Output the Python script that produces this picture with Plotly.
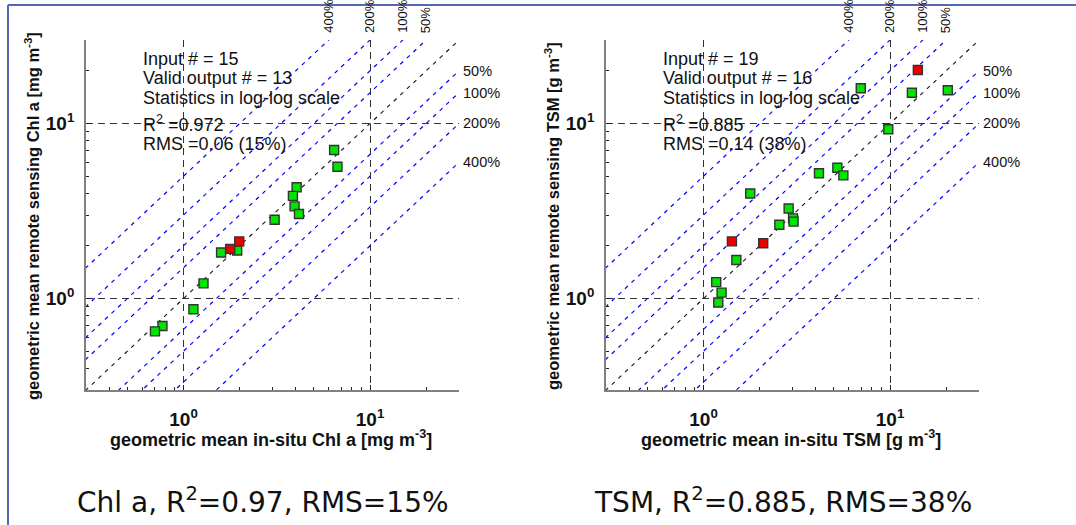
import math
import plotly.graph_objects as go

# ---- data -------------------------------------------------------------
chl_insitu = [6.42, 6.69, 4.04, 3.86, 3.94, 4.16, 3.08, 1.94, 1.59, 1.28, 1.13, 0.771, 0.703]
chl_rs     = [7.05, 5.66, 4.32, 3.86, 3.36, 3.04, 2.82, 1.88, 1.83, 1.22, 0.868, 0.696, 0.649]
chl_out_insitu = [1.99, 1.78]
chl_out_rs     = [2.12, 1.92]

tsm_insitu = [6.97, 13.1, 20.4, 9.79, 4.16, 5.22, 5.62, 1.78, 2.86, 3.02, 3.04, 2.55, 1.50, 1.17, 1.25, 1.20]
tsm_rs     = [15.9, 15.0, 15.5, 9.27, 5.20, 5.59, 5.05, 3.98, 3.27, 2.87, 2.75, 2.64, 1.66, 1.24, 1.08, 0.948]
tsm_out_insitu = [14.1, 1.42, 2.09]
tsm_out_rs     = [20.2, 2.12, 2.07]

error_pct = [50, 100, 200, 400]          # relative error envelopes
axis_min, axis_max = 0.3, 30.0
major_ticks = [1, 10]
major_text = ["<b>10<sup>0</sup></b>", "<b>10<sup>1</sup></b>"]
minor_ticks = [0.3, 0.4, 0.5, 0.6, 0.7, 0.8, 0.9, 2, 3, 4, 5, 6, 7, 8, 9, 20, 30]

stats_chl = ["Input # = 15", "Valid output # = 13", "Statistics in log-log scale",
             "R<sup>2</sup> =0.972", "RMS =0.06 (15%)"]
stats_tsm = ["Input # = 19", "Valid output # = 16", "Statistics in log-log scale",
             "R<sup>2</sup> =0.885", "RMS =0.14 (38%)"]
captions = ["Chl a, R<sup>2</sup>=0.97, RMS=15%", "TSM, R<sup>2</sup>=0.885, RMS=38%"]
xtitles = ["geometric mean in-situ Chl a [mg m<sup>-3</sup>]",
           "geometric mean in-situ TSM [g m<sup>-3</sup>]"]
ytitles = ["geometric mean remote sensing Chl a [mg m<sup>-3</sup>]",
           "geometric mean remote sensing TSM [g m<sup>-3</sup>]"]

W, H = 1076, 525
GREEN, RED = "#00e600", "#ee0000"
LINE_X = [0.05, 200]


def px(x):
    return x / W


def py(y):
    return 1 - y / H


fig = go.Figure()
panels = [
    ("x", "y", chl_insitu, chl_rs, chl_out_insitu, chl_out_rs),
    ("x2", "y2", tsm_insitu, tsm_rs, tsm_out_insitu, tsm_out_rs),
]

for xa, ya, xi, yi, xo, yo in panels:
    # error envelopes (blue) and 1:1 line (black)
    for p in error_pct:
        k = 1 + p / 100
        for f in (k, 1 / k):
            fig.add_trace(go.Scatter(x=LINE_X, y=[v * f for v in LINE_X], mode="lines",
                                     line=dict(color="#0000ff", width=1.2, dash="4px,5px"),
                                     xaxis=xa, yaxis=ya, showlegend=False, hoverinfo="skip"))
    fig.add_trace(go.Scatter(x=LINE_X, y=LINE_X, mode="lines",
                             line=dict(color="#111", width=1.1, dash="4px,5px"),
                             xaxis=xa, yaxis=ya, showlegend=False, hoverinfo="skip"))
    # matchups
    fig.add_trace(go.Scatter(x=xi, y=yi, mode="markers", xaxis=xa, yaxis=ya, showlegend=False,
                             marker=dict(symbol="square", size=9, color=GREEN,
                                         line=dict(color="#333", width=1.4))))
    fig.add_trace(go.Scatter(x=xo, y=yo, mode="markers", xaxis=xa, yaxis=ya, showlegend=False,
                             marker=dict(symbol="square", size=9, color=RED,
                                         line=dict(color="#333", width=1.4))))

axis_common = dict(
    type="log", range=[math.log10(axis_min), math.log10(axis_max)],
    tickvals=major_ticks, ticktext=major_text,
    ticks="inside", ticklen=5, tickcolor="#222", tickwidth=1,
    showline=True, linecolor="#808080", linewidth=1.8, mirror=False,
    showgrid=True, gridcolor="#333", gridwidth=1, griddash="7px,5px",
    zeroline=False, tickfont=dict(family="Liberation Sans", size=19, color="#111"),
    minor=dict(tickvals=minor_ticks, ticks="inside", ticklen=3, tickcolor="#222",
               tickwidth=1, showgrid=False),
)
x_axis = dict(axis_common, ticklabelstandoff=11)
y_axis = dict(axis_common, ticklabelstandoff=6)

y_dom = [py(390), py(40)]
fig.update_layout(
    width=W, height=H, margin=dict(l=0, r=0, t=0, b=0),
    paper_bgcolor="white", plot_bgcolor="white",
    xaxis=dict(x_axis, domain=[px(86), px(459)], anchor="y"),
    yaxis=dict(y_axis, domain=y_dom, anchor="x"),
    xaxis2=dict(x_axis, domain=[px(606), px(979)], anchor="y2"),
    yaxis2=dict(y_axis, domain=y_dom, anchor="x2"),
)

ann = []
text_font = dict(family="Liberation Sans", size=18, color="#111")
top_font = dict(family="Liberation Sans", size=13, color="#111")
side_font = dict(family="Liberation Sans", size=14.5, color="#111")
stat_rows = [59, 78.5, 98, 123.5, 143.5]

for i, (xa, ya, stats, off) in enumerate([("x", "y", stats_chl, 0), ("x2", "y2", stats_tsm, 520)]):
    for row, txt in zip(stat_rows, stats):
        ann.append(dict(x=px(141 + off), y=py(row), xref="paper", yref="paper", text=txt,
                        showarrow=False, xanchor="left", yanchor="middle", font=text_font))
    for p in error_pct:
        k = 1 + p / 100
        # labels at the top edge for over-estimation lines
        ann.append(dict(x=math.log10(axis_max / k), y=py(35), xref=xa, yref="paper",
                        text=f"{p}%", textangle=-90, showarrow=False,
                        xanchor="center", yanchor="bottom", font=top_font))
        # labels at the right edge for under-estimation lines
        ann.append(dict(x=px(461 + off), y=math.log10(axis_max / k), xref="paper",
                        yref=ya, text=f"{p}%", showarrow=False,
                        xanchor="left", yanchor="middle", font=side_font))
    ann.append(dict(x=px(271 + off), y=py(438), xref="paper", yref="paper",
                    text=f"<b>{xtitles[i]}</b>", showarrow=False,
                    xanchor="center", yanchor="middle",
                    font=dict(family="Liberation Sans", size=18, color="#111")))
    ann.append(dict(x=px(32 + off), y=py(216), xref="paper", yref="paper",
                    text=f"<b>{ytitles[i]}</b>", textangle=-90, showarrow=False,
                    xanchor="center", yanchor="middle",
                    font=dict(family="Liberation Sans", size=16.5, color="#111")))
    ann.append(dict(x=px(263 + off), y=py(500), xref="paper", yref="paper",
                    text=captions[i], showarrow=False, xanchor="center", yanchor="middle",
                    font=dict(family="DejaVu Sans", size=28, color="#111")))

fig.update_layout(annotations=ann)

# slide frame
fig.add_shape(type="line", xref="paper", yref="paper", x0=px(8), x1=1, y0=py(5), y1=py(5),
              line=dict(color="#5866b0", width=2))
fig.add_shape(type="line", xref="paper", yref="paper", x0=px(8), x1=px(8), y0=py(5), y1=0,
              line=dict(color="#5866b0", width=2))

fig.write_html("out.html")
